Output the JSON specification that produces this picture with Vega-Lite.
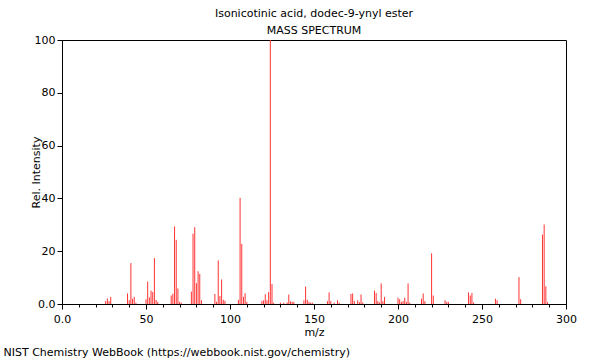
{
  "$schema": "https://vega.github.io/schema/vega-lite/v6.json",
  "autosize": {"type": "none"},
  "padding": {"left": 62, "top": 40, "right": 34, "bottom": 56},
  "width": 504,
  "height": 264,
  "background": "white",
  "title": {"text": ["Isonicotinic acid, dodec-9-ynyl ester", "MASS SPECTRUM"], "font": "DejaVu Sans", "fontSize": 11, "fontWeight": "normal", "lineHeight": 17, "offset": -2, "color": "#000"},
  "config": {
    "font": "DejaVu Sans",
    "view": {"stroke": "#000", "strokeWidth": 1},
    "axis": {"domainColor": "#000", "tickColor": "#000", "labelColor": "#000", "titleColor": "#000", "labelFontSize": 11, "titleFontSize": 11, "titleFontWeight": "normal", "grid": false, "labelFlush": false, "labelOverlap": false}
  },
  "data": {"values": [
    {"mz": 26, "y": 1.1}, {"mz": 27, "y": 2.1}, {"mz": 28, "y": 1.1}, {"mz": 29, "y": 2.7},
    {"mz": 39, "y": 4.0}, {"mz": 40, "y": 1.4}, {"mz": 41, "y": 15.5}, {"mz": 42, "y": 2.0}, {"mz": 43, "y": 2.7}, {"mz": 44, "y": 0.5},
    {"mz": 50, "y": 1.8}, {"mz": 51, "y": 8.5}, {"mz": 52, "y": 2.5}, {"mz": 53, "y": 5.1}, {"mz": 54, "y": 4.5}, {"mz": 55, "y": 17.4}, {"mz": 56, "y": 1.5}, {"mz": 57, "y": 0.8},
    {"mz": 65, "y": 3.2}, {"mz": 66, "y": 3.9}, {"mz": 67, "y": 29.4}, {"mz": 68, "y": 24.3}, {"mz": 69, "y": 5.9}, {"mz": 70, "y": 0.8}, {"mz": 71, "y": 0.5},
    {"mz": 77, "y": 4.7}, {"mz": 78, "y": 26.6}, {"mz": 79, "y": 29.1}, {"mz": 80, "y": 7.9}, {"mz": 81, "y": 12.4}, {"mz": 82, "y": 11.4}, {"mz": 83, "y": 1.4},
    {"mz": 91, "y": 3.8}, {"mz": 92, "y": 0.8}, {"mz": 93, "y": 16.5}, {"mz": 94, "y": 3.0}, {"mz": 95, "y": 9.3}, {"mz": 96, "y": 1.6}, {"mz": 97, "y": 1.2},
    {"mz": 105, "y": 1.6}, {"mz": 106, "y": 40.2}, {"mz": 107, "y": 22.8}, {"mz": 108, "y": 2.7}, {"mz": 109, "y": 4.1}, {"mz": 110, "y": 0.8},
    {"mz": 119, "y": 1.1}, {"mz": 120, "y": 1.4}, {"mz": 121, "y": 3.7}, {"mz": 122, "y": 1.4}, {"mz": 123, "y": 4.5}, {"mz": 124, "y": 100}, {"mz": 125, "y": 7.6}, {"mz": 126, "y": 0.5},
    {"mz": 130, "y": 0.5}, {"mz": 132, "y": 0.5}, {"mz": 134, "y": 0.6}, {"mz": 135, "y": 3.6}, {"mz": 136, "y": 1.0}, {"mz": 137, "y": 0.8}, {"mz": 138, "y": 0.8},
    {"mz": 144, "y": 1.4}, {"mz": 145, "y": 6.6}, {"mz": 146, "y": 1.6}, {"mz": 147, "y": 0.8}, {"mz": 148, "y": 0.5}, {"mz": 149, "y": 0.5},
    {"mz": 158, "y": 1.1}, {"mz": 159, "y": 4.4}, {"mz": 160, "y": 1.1}, {"mz": 162, "y": 0.5}, {"mz": 164, "y": 1.4}, {"mz": 165, "y": 0.5},
    {"mz": 172, "y": 3.8}, {"mz": 173, "y": 4.0}, {"mz": 174, "y": 1.1}, {"mz": 176, "y": 1.4}, {"mz": 177, "y": 0.7}, {"mz": 178, "y": 3.6}, {"mz": 179, "y": 0.6},
    {"mz": 186, "y": 5.1}, {"mz": 187, "y": 4.2}, {"mz": 188, "y": 1.1}, {"mz": 189, "y": 0.6}, {"mz": 190, "y": 7.8}, {"mz": 191, "y": 1.1}, {"mz": 192, "y": 2.7},
    {"mz": 200, "y": 2.4}, {"mz": 201, "y": 1.8}, {"mz": 202, "y": 0.8}, {"mz": 203, "y": 1.1}, {"mz": 204, "y": 2.4}, {"mz": 205, "y": 0.8}, {"mz": 206, "y": 7.8}, {"mz": 207, "y": 0.5},
    {"mz": 214, "y": 2.0}, {"mz": 215, "y": 4.0}, {"mz": 216, "y": 1.1}, {"mz": 220, "y": 19.2}, {"mz": 221, "y": 3.2},
    {"mz": 228, "y": 1.4}, {"mz": 229, "y": 0.8}, {"mz": 230, "y": 0.8},
    {"mz": 242, "y": 4.4}, {"mz": 243, "y": 3.2}, {"mz": 244, "y": 4.2}, {"mz": 245, "y": 0.6},
    {"mz": 258, "y": 2.0}, {"mz": 259, "y": 1.4},
    {"mz": 272, "y": 10.2}, {"mz": 273, "y": 1.8},
    {"mz": 286, "y": 26.3}, {"mz": 287, "y": 30.1}, {"mz": 288, "y": 6.7}, {"mz": 289, "y": 0.7}
  ]},
  "layer": [
    {
      "mark": {"type": "rule", "color": "#ff3333", "strokeWidth": 1},
      "encoding": {
        "x": {"field": "mz", "type": "quantitative", "scale": {"domain": [0, 300], "nice": false, "zero": false, "padding": 0},
              "axis": {"title": "m/z", "orient": "bottom", "values": [0,10,20,30,40,50,60,70,80,90,100,110,120,130,140,150,160,170,180,190,200,210,220,230,240,250,260,270,280,290,300],
                       "labelExpr": "datum.value % 50 === 0 ? (datum.value === 0 ? '0.0' : datum.label) : ''",
                       "tickSize": {"condition": {"test": "datum.value % 50 === 0", "value": 5}, "value": 3},
                       "labelPadding": 4, "titlePadding": 2}},
        "y": {"field": "y", "type": "quantitative", "scale": {"domain": [0, 100], "nice": false},
              "axis": {"title": "Rel. Intensity", "values": [0,5,10,15,20,25,30,35,40,45,50,55,60,65,70,75,80,85,90,95,100],
                       "labelExpr": "datum.value % 20 === 0 ? (datum.value === 0 ? '0.0' : datum.label) : ''",
                       "tickSize": {"condition": {"test": "datum.value % 20 === 0", "value": 5}, "value": 3},
                       "labelPadding": 2, "titleX": -26, "titleY": 132, "titleAngle": -90, "titleAlign": "center", "titleBaseline": "middle"}},
        "y2": {"datum": 0}
      }
    },
    {
      "mark": {"type": "rule", "opacity": 0},
      "encoding": {
        "x": {"field": "mz", "type": "quantitative", "scale": {"domain": [0, 300], "nice": false, "zero": false, "padding": 0},
              "axis": {"title": "NIST Chemistry WebBook (https://webbook.nist.gov/chemistry)", "orient": "bottom", "domain": false, "ticks": false, "labels": false,
                       "titleX": -59, "titleY": 48, "titleAlign": "left", "titleBaseline": "middle"}},
        "y": {"field": "y", "type": "quantitative", "scale": {"domain": [0, 100], "nice": false}},
        "y2": {"datum": 0}
      }
    }
  ],
  "resolve": {"axis": {"x": "independent"}}
}
